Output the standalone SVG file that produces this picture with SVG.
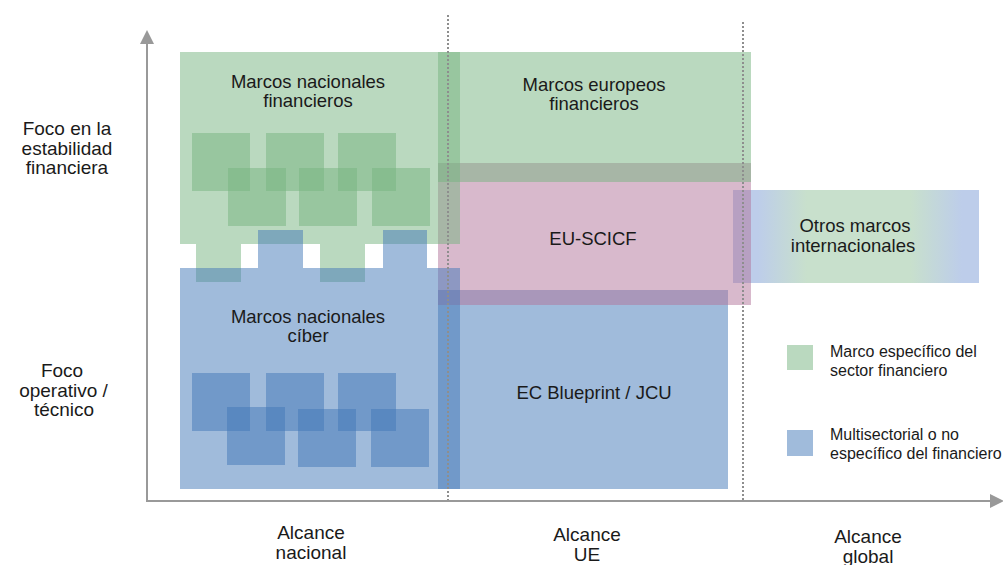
<svg xmlns="http://www.w3.org/2000/svg" width="1003" height="565" viewBox="0 0 1003 565">
<style>
text{font-family:"Liberation Sans",Arial,sans-serif;fill:#1a1a1a;text-anchor:middle}
.lbl{font-size:18.5px}
.ax{font-size:19px}
.lg{font-size:16px;text-anchor:start}
.g{fill:#75b37f;fill-opacity:0.5}
.b{fill:#4177b7;fill-opacity:0.5}
.p{fill:#b17399;fill-opacity:0.5}
.axis{stroke:#999;stroke-width:2;fill:none}
.dot{stroke:#8e8e8e;stroke-width:2;stroke-dasharray:2 2;fill:none}
</style>
<defs>
<linearGradient id="otros" x1="0" y1="0" x2="1" y2="0">
<stop offset="0" stop-color="#bdcdea"/>
<stop offset="0.1" stop-color="#bdcdea"/>
<stop offset="0.3" stop-color="#c8e0cc"/>
<stop offset="0.72" stop-color="#c8e0cc"/>
<stop offset="0.93" stop-color="#bdcdea"/>
<stop offset="1" stop-color="#bdcdea"/>
</linearGradient>
</defs>
<g id="connectors">
<line class="axis" x1="147" y1="502" x2="147" y2="42"/>
<polygon points="147,30 140,44 154,44" fill="#999"/>
<line class="axis" x1="146" y1="501" x2="992" y2="501"/>
<polygon points="1004,501 990,494 990,508" fill="#999"/>
</g>
<g id="otros-marcos">
<rect x="733" y="190" width="246" height="93" fill="url(#otros)"/>
</g>
<g id="ec-blueprint">
<rect class="b" x="438" y="290" width="290" height="199"/>
</g>
<g id="eu-scicf">
<rect class="p" x="438" y="163" width="313" height="142"/>
</g>
<g id="marcos-europeos">
<rect class="g" x="438" y="52" width="313" height="130"/>
</g>
<g id="marcos-nacionales-financieros">
<path class="g" d="M180,52H460V244H365V282H320V244H241V282H196V244H180Z"/>
<rect class="g" x="192" y="133" width="58" height="58"/>
<rect class="g" x="266" y="133" width="58" height="58"/>
<rect class="g" x="338" y="133" width="58" height="58"/>
<rect class="g" x="228" y="168" width="58" height="58"/>
<rect class="g" x="299" y="168" width="58" height="58"/>
<rect class="g" x="372" y="168" width="58" height="58"/>
</g>
<g id="marcos-nacionales-ciber">
<path class="b" d="M180,268H258V230H303V268H383V230H427V268H460V489H180Z"/>
<rect class="b" x="192" y="373" width="58" height="58"/>
<rect class="b" x="266" y="373" width="58" height="58"/>
<rect class="b" x="338" y="373" width="58" height="58"/>
<rect class="b" x="227" y="407" width="58" height="58"/>
<rect class="b" x="298" y="409" width="58" height="58"/>
<rect class="b" x="371" y="409" width="58" height="58"/>
</g>
<g id="dividers">
<line class="dot" x1="448" y1="15" x2="448" y2="500"/>
<line class="dot" x1="743" y1="22" x2="743" y2="500"/>
</g>
<g id="labels">
<text class="lbl" x="308" y="88">Marcos nacionales</text>
<text class="lbl" x="308" y="107">financieros</text>
<text class="lbl" x="594" y="91">Marcos europeos</text>
<text class="lbl" x="594" y="110">financieros</text>
<text class="lbl" x="593" y="245">EU-SCICF</text>
<text class="lbl" x="855" y="232">Otros marcos</text>
<text class="lbl" x="853" y="252">internacionales</text>
<text class="lbl" x="308" y="323">Marcos nacionales</text>
<text class="lbl" x="308" y="342">cíber</text>
<text class="lbl" x="594" y="399">EC Blueprint / JCU</text>
</g>
<g id="y-axis-labels">
<text class="ax" x="67" y="135">Foco en la</text>
<text class="ax" x="67" y="154.5">estabilidad</text>
<text class="ax" x="67" y="174">financiera</text>
<text class="ax" x="62" y="377">Foco</text>
<text class="ax" x="63.5" y="396.5">operativo /</text>
<text class="ax" x="64" y="416">técnico</text>
</g>
<g id="x-axis-labels">
<text class="ax" x="311" y="539">Alcance</text>
<text class="ax" x="311" y="558.5">nacional</text>
<text class="ax" x="587" y="541">Alcance</text>
<text class="ax" x="587" y="560.5">UE</text>
<text class="ax" x="868" y="543">Alcance</text>
<text class="ax" x="868" y="562.5">global</text>
</g>
<g id="legend">
<rect x="787" y="345" width="26" height="25" fill="#bad9bf"/>
<text class="lg" x="830" y="357">Marco específico del</text>
<text class="lg" x="830" y="376">sector financiero</text>
<rect x="787" y="430" width="26" height="26" fill="#a0bbdb"/>
<text class="lg" x="830" y="440">Multisectorial o no</text>
<text class="lg" x="830" y="459">específico del financiero</text>
</g>
</svg>
